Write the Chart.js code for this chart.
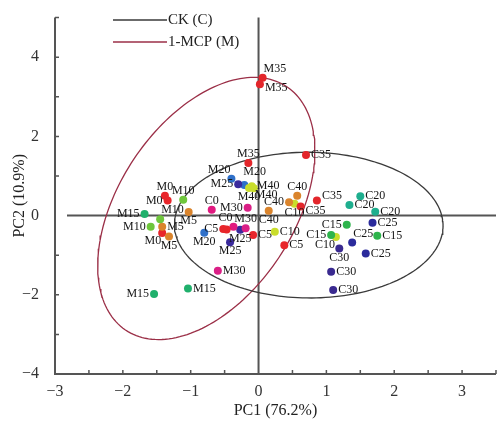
<!DOCTYPE html>
<html>
<head>
<meta charset="utf-8">
<script src="https://cdn.jsdelivr.net/npm/chart.js@4.4.1/dist/chart.umd.min.js"></script>
<style>
  html, body { margin: 0; padding: 0; background: #fff; }
</style>
</head>
<body>
<canvas id="pcaChart" width="500" height="421"></canvas>
<script>
// CK (control) samples: day label, PC1, PC2
const ckLabels = ['C0', 'C0', 'C5', 'C5', 'C5', 'C5', 'C10', 'C10', 'C10', 'C15', 'C15', 'C15',
    'C20', 'C20', 'C20', 'C25', 'C25', 'C25', 'C30', 'C30', 'C30', 'C35', 'C35', 'C35', 'C40', 'C40', 'C40'];
const ckPC1 = [-0.69, -0.37, -0.47, -0.52, -0.08, 0.38, 0.53, 0.24, 1.14, 1.30, 1.07, 1.75,
    1.50, 1.34, 1.72, 1.68, 1.38, 1.58, 1.19, 1.07, 1.10, 0.70, 0.86, 0.62, 0.57, 0.45, 0.15];
const ckPC2 = [0.15, -0.28, -0.35, -0.34, -0.49, -0.75, 0.30, -0.41, -0.54, -0.23, -0.49, -0.51,
    0.49, 0.27, 0.10, -0.18, -0.68, -0.96, -0.83, -1.42, -1.88, 1.53, 0.38, 0.23, 0.50, 0.34, 0.12];

// 1-MCP samples
const mcpLabels = ['M0', 'M0', 'M0', 'M5', 'M5', 'M5', 'M10', 'M10', 'M10', 'M15', 'M15', 'M15',
    'M20', 'M20', 'M20', 'M25', 'M25', 'M25', 'M30', 'M30', 'M30', 'M35', 'M35', 'M35', 'M40', 'M40', 'M40'];
const mcpPC1 = [-1.38, -1.34, -1.42, -1.03, -1.42, -1.32, -1.11, -1.45, -1.59, -1.68, -1.54, -1.04,
    -0.40, -0.21, -0.80, -0.30, -0.27, -0.42, -0.16, -0.60, -0.19, 0.06, 0.02, -0.15, -0.10, -0.14, -0.07];
const mcpPC2 = [0.50, 0.38, -0.44, 0.09, -0.28, -0.53, 0.40, -0.09, -0.28, 0.04, -1.98, -1.84,
    0.93, 0.77, -0.43, 0.79, -0.36, -0.67, 0.20, -1.39, -0.32, 3.48, 3.32, 1.33, 0.74, 0.70, 0.69];

// confidence ellipses: centre PC1, centre PC2, semi-axis a, semi-axis b, tilt (deg)
const ckEllipse = [0.74, -0.24, 1.98, 1.84, -3];
const mcpEllipse = [-0.77, 0.18, 3.4, 1.4, 75.5];

const xTicks = [-3, -2, -1, 0, 1, 2, 3];
const yTicks = [-4, -2, 0, 2, 4];
const xMinorTicks = [-3, -2.5, -2, -1.5, -1, -0.5, 0.5, 1, 1.5, 2, 2.5, 3, 3.5];
const yMinorTicks = [-4, -3, -2, -1, 1, 2, 3, 4, 5];

const seriesNames = ['CK (C)', '1-MCP (M)'];

// styling
const dotColors = {
    C0: '#e11a80', C5: '#e8262b', C10: '#c9dd2c', C15: '#2eb44c', C20: '#1eae8e',
    C25: '#2b2b9c', C30: '#3a2a90', C35: '#e3262b', C40: '#da842c',
    M0: '#e8262b', M5: '#da842c', M10: '#6fc63c', M15: '#20b06c', M20: '#2f70c9',
    M25: '#3a2a9c', M30: '#da1f86', M35: '#e3262b', M40: '#c9dd2c'
};
const ckLabelPos = ['a', 'al', 'none', 'l', 'r', 'r', 'b', 'r', 'bl', 'l', 'l', 'r',
    'r', 'r', 'r', 'r', 'ar', 'r', 'b', 'r', 'r', 'r', 'ru', 'rd', 'a', 'l', 'b'];
const mcpLabelPos = ['a', 'l', 'bl', 'b', 'r', 'b', 'a', 'ar', 'l', 'l', 'l', 'r',
    'al', 'ar2', 'b', 'l', 'b', 'b', 'l', 'r', 'a', 'ar', 'rd', 'a', 'r', 'b', 'br'];
const labelOffsets = {
    r: [5, 0, 'left'], l: [-5, 0, 'right'], a: [0, -9, 'center'], b: [0, 9, 'center'],
    ar: [1, -9, 'left'], ar2: [-1, -13, 'left'], al: [-1, -9, 'right'],
    br: [1, 7, 'left'], bl: [-1, 8, 'right'], ru: [5, -5, 'left'], rd: [5, 4, 'left']
};
const ckColor = '#3a3a3a';
const mcpColor = '#9b2f47';
const axisColor = '#555';
const serif = '"Liberation Serif", "DejaVu Serif", serif';

function ellipsePoints(e) {
    const [cx, cy, a, b, deg] = e;
    const th = deg * Math.PI / 180;
    const pts = [];
    for (let i = 0; i <= 180; i++) {
        const t = i / 180 * 2 * Math.PI;
        const u = a * Math.cos(t), v = b * Math.sin(t);
        pts.push({ x: cx + u * Math.cos(th) - v * Math.sin(th), y: cy + u * Math.sin(th) + v * Math.cos(th) });
    }
    return pts;
}

const zip = (xs, ys) => xs.map((x, i) => ({ x, y: ys[i] }));
const fmt = (v) => (v < 0 ? '\u2212' + Math.abs(v) : String(v));

const axesPlugin = {
    id: 'pcaAxes',
    beforeDatasetsDraw(chart) {
        const { ctx, chartArea: ca, scales: { x, y } } = chart;
        const x0 = x.getPixelForValue(0);
        const y0 = y.getPixelForValue(0);
        ctx.save();
        ctx.strokeStyle = axisColor;
        ctx.lineWidth = 2;
        ctx.beginPath();
        ctx.moveTo(ca.left, ca.top); ctx.lineTo(ca.left, ca.bottom); ctx.lineTo(ca.right, ca.bottom);
        ctx.moveTo(x0, ca.top); ctx.lineTo(x0, ca.bottom);
        ctx.moveTo(ca.left + 12, y0); ctx.lineTo(ca.right, y0);
        ctx.stroke();
        ctx.lineWidth = 1.5;
        ctx.beginPath();
        xMinorTicks.forEach((v) => {
            const px = x.getPixelForValue(v);
            ctx.moveTo(px, ca.bottom); ctx.lineTo(px, ca.bottom - 4);
        });
        yMinorTicks.forEach((v) => {
            const py = y.getPixelForValue(v);
            ctx.moveTo(ca.left, py); ctx.lineTo(ca.left + 4, py);
        });
        ctx.stroke();
        ctx.restore();
    },
    afterDatasetsDraw(chart) {
        const { ctx, scales: { x, y } } = chart;
        ctx.save();
        ctx.font = '12px ' + serif;
        ctx.fillStyle = '#151515';
        ctx.textBaseline = 'middle';
        const put = (labels, xs, ys, pos) => {
            labels.forEach((lab, i) => {
                const o = labelOffsets[pos[i]];
                if (!o) return;
                ctx.textAlign = o[2];
                ctx.fillText(lab, x.getPixelForValue(xs[i]) + o[0], y.getPixelForValue(ys[i]) + o[1]);
            });
        };
        put(ckLabels, ckPC1, ckPC2, ckLabelPos);
        put(mcpLabels, mcpPC1, mcpPC2, mcpLabelPos);
        ctx.restore();
    },
    afterDraw(chart) {
        const { ctx } = chart;
        ctx.save();
        ctx.font = '15px ' + serif;
        ctx.fillStyle = '#222';
        ctx.textBaseline = 'middle';
        ctx.textAlign = 'left';
        [[ckColor, 20], [mcpColor, 42]].forEach(([col, ly], i) => {
            ctx.strokeStyle = col;
            ctx.lineWidth = 1.3;
            ctx.beginPath();
            ctx.moveTo(113, ly); ctx.lineTo(167, ly);
            ctx.stroke();
            ctx.fillText(seriesNames[i], 168, ly);
        });
        ctx.restore();
    }
};

new Chart(document.getElementById('pcaChart'), {
    type: 'scatter',
    data: {
        datasets: [
            {
                label: seriesNames[0] + ' ellipse', data: ellipsePoints(ckEllipse), showLine: true,
                borderColor: ckColor, borderWidth: 1.3, pointRadius: 0, fill: false, order: 2
            },
            {
                label: seriesNames[1] + ' ellipse', data: ellipsePoints(mcpEllipse), showLine: true,
                borderColor: mcpColor, borderWidth: 1.3, pointRadius: 0, fill: false, order: 2
            },
            {
                label: seriesNames[0], data: zip(ckPC1, ckPC2), pointRadius: 4, pointBorderWidth: 0,
                pointBackgroundColor: ckLabels.map((l) => dotColors[l]), order: 1
            },
            {
                label: seriesNames[1], data: zip(mcpPC1, mcpPC2), pointRadius: 4, pointBorderWidth: 0,
                pointBackgroundColor: mcpLabels.map((l) => dotColors[l]), order: 1
            }
        ]
    },
    options: {
        responsive: false,
        animation: false,
        events: [],
        layout: { padding: { top: 10, right: 0, bottom: 0, left: 0 } },
        plugins: { legend: { display: false }, tooltip: { enabled: false } },
        scales: {
            x: {
                type: 'linear', min: -3, max: 3.5,
                afterBuildTicks: (s) => { s.ticks = xTicks.map((v) => ({ value: v })); },
                afterFit: (s) => { s.height = 47; },
                grid: { display: false }, border: { display: false },
                ticks: { color: '#333', font: { family: serif, size: 16 }, padding: 0, maxRotation: 0, callback: fmt },
                title: { display: true, text: 'PC1 (76.2%)', color: '#222', font: { family: serif, size: 16 }, padding: { top: 0, bottom: 1 } }
            },
            y: {
                type: 'linear', min: -4, max: 5,
                afterBuildTicks: (s) => { s.ticks = yTicks.map((v) => ({ value: v })); },
                afterFit: (s) => { s.width = 55; },
                grid: { display: false }, border: { display: false },
                ticks: { color: '#333', font: { family: serif, size: 16 }, padding: 8, callback: fmt },
                title: { display: true, text: 'PC2 (10.9%)', color: '#222', font: { family: serif, size: 16 }, padding: { top: 10, bottom: 0 } }
            }
        }
    },
    plugins: [axesPlugin]
});
</script>
</body>
</html>
